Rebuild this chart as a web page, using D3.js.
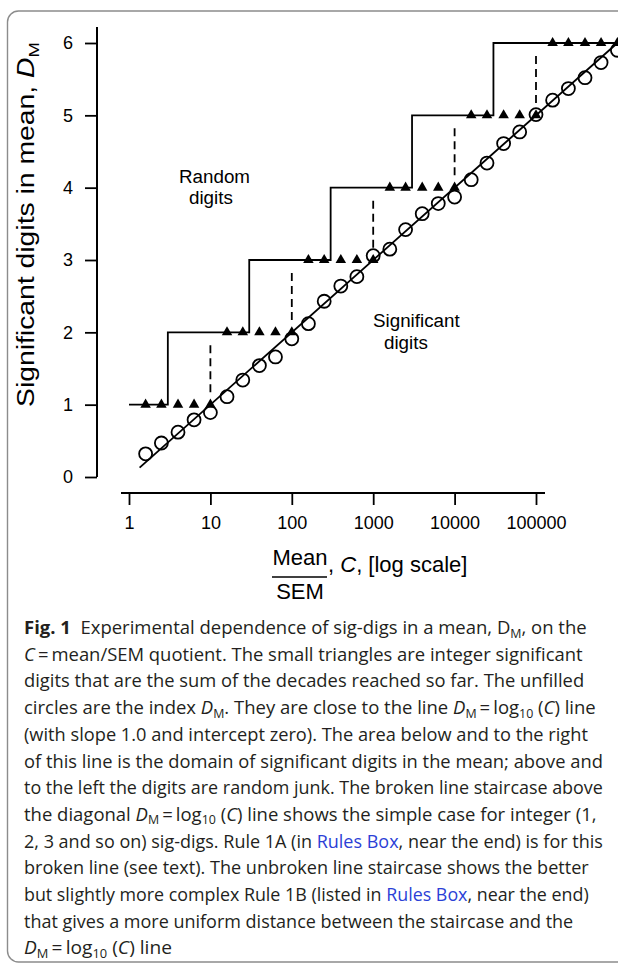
<!DOCTYPE html>
<html>
<head>
<meta charset="utf-8">
<script src="https://cdn.jsdelivr.net/npm/d3@7"></script>
<style>
  body { margin: 0; background: #fff; }
  svg { display: block; }
  text { white-space: pre; }
</style>
</head>
<body>
<svg id="chart" width="618" height="964"></svg>
<script>
// values
const cValues = [1.6, 2.5, 4, 6.3, 10, 16, 25, 40, 63, 100, 160, 250, 400, 630, 1000,
  1600, 2500, 4000, 6300, 10000, 16000, 25000, 40000, 63000, 100000,
  160000, 250000, 400000, 630000, 1000000]
const dmIndex = [0.32, 0.47, 0.62, 0.79, 0.89, 1.11, 1.34, 1.54, 1.66, 1.91, 2.12, 2.43, 2.64, 2.77, 3.06,
  3.15, 3.42, 3.64, 3.78, 3.87, 4.11, 4.34, 4.61, 4.77, 5.01, 5.21, 5.37, 5.52, 5.73, 5.90]
const intDigits = [1, 1, 1, 1, 1, 2, 2, 2, 2, 2, 3, 3, 3, 3, 3, 4, 4, 4, 4, 4, 5, 5, 5, 5, 5, 6, 6, 6, 6, 6]

// Rule 1B staircase (unbroken)
const stairC = [1, 3, 3, 30, 30, 300, 300, 3000, 3000, 30000, 30000, 1000000]
const stairD = [1, 1, 2, 2, 3, 3, 4, 4, 5, 5, 6, 6]
// Rule 1A steps (broken line)
const brokenC = [10, 100, 1000, 10000, 100000]
const brokenFrom = [1, 2, 3, 4, 5]
// the D_M = log10(C) line
const diagC = [1.35, 1000000]
const diagD = [0.13, 6]

const xTicks = [1, 10, 100, 1000, 10000, 100000]
const yTicks = [0, 1, 2, 3, 4, 5, 6]

const svg = d3.select("#chart")
const chartFont = "'Liberation Sans', Arial, Helvetica, sans-serif"
const capFont = "'Open Sans', 'Noto Sans', sans-serif"

// frame of the figure box
svg.append("rect")
  .attr("x", 7.5).attr("y", 11).attr("width", 700).attr("height", 951)
  .attr("rx", 11)
  .attr("fill", "none").attr("stroke", "#8c8c8c").attr("stroke-width", 1.4)

const x = d3.scaleLog().domain([1, 1e6]).range([129, 617.4])
const y = d3.scaleLinear().domain([0, 6]).range([477, 43])

// y axis
const yAxis = svg.append("g")
  .attr("transform", "translate(97,0)")
  .call(d3.axisLeft(y).tickValues(yTicks).tickSize(12).tickPadding(12).tickFormat(d3.format("d")))
yAxis.select(".domain").remove()
yAxis.append("line").attr("x1", 0).attr("x2", 0).attr("y1", 27).attr("y2", y(0))
  .attr("stroke", "#000").attr("stroke-width", 2)
yAxis.selectAll(".tick line").attr("stroke-width", 1.8)
yAxis.selectAll(".tick text").attr("font-family", chartFont).attr("font-size", 18).attr("fill", "#000")

// x axis
const xAxis = svg.append("g")
  .attr("transform", "translate(0,493)")
  .call(d3.axisBottom(x).tickValues(xTicks).tickSize(12).tickPadding(11).tickFormat(d3.format("d")))
xAxis.select(".domain").remove()
xAxis.append("line").attr("x1", 121).attr("x2", 545).attr("y1", 0).attr("y2", 0)
  .attr("stroke", "#000").attr("stroke-width", 2)
xAxis.selectAll(".tick line").attr("stroke-width", 1.8)
xAxis.selectAll(".tick text").attr("font-family", chartFont).attr("font-size", 18).attr("fill", "#000")

const plot = svg.append("g")

// broken line staircase (vertical risers)
plot.selectAll(".riser")
  .data(brokenC)
  .join("line")
  .attr("x1", d => x(d)).attr("x2", d => x(d))
  .attr("y1", (d, i) => y(brokenFrom[i] + 1))
  .attr("y2", (d, i) => y(brokenFrom[i]))
  .attr("stroke", "#000").attr("stroke-width", 1.8)
  .attr("stroke-dasharray", "0,13,8,5,8,5,8,5,8,13")

// unbroken staircase
const stairPts = stairC.map((c, i) => [c, stairD[i]])
plot.append("path")
  .datum(stairPts)
  .attr("fill", "none").attr("stroke", "#000").attr("stroke-width", 1.8)
  .attr("d", d3.line().x(d => x(d[0])).y(d => y(d[1])))

// diagonal D_M = log10(C)
plot.append("path")
  .datum(diagC.map((c, i) => [c, diagD[i]]))
  .attr("fill", "none").attr("stroke", "#000").attr("stroke-width", 1.8)
  .attr("d", d3.line().x(d => x(d[0])).y(d => y(d[1])))

// integer sig-digs (triangles)
plot.selectAll(".tri")
  .data(cValues)
  .join("path")
  .attr("transform", (d, i) => `translate(${x(d)},${y(intDigits[i])})`)
  .attr("d", d3.symbol(d3.symbolTriangle, 48))
  .attr("fill", "#000")

// index D_M (open circles)
plot.selectAll(".dot")
  .data(cValues)
  .join("circle")
  .attr("cx", d => x(d))
  .attr("cy", (d, i) => y(dmIndex[i]))
  .attr("r", 6.5)
  .attr("fill", "none").attr("stroke", "#000").attr("stroke-width", 1.8)

// region labels
const labels = [
  {t: "Random", x: 179, y: 183}, {t: "digits", x: 189, y: 204},
  {t: "Significant", x: 373, y: 327}, {t: "digits", x: 384, y: 349}
]
svg.selectAll(".region")
  .data(labels)
  .join("text")
  .attr("x", d => d.x).attr("y", d => d.y)
  .attr("font-family", chartFont).attr("font-size", 18.8)
  .text(d => d.t)

// y axis title
const yTitle = svg.append("text")
  .attr("font-family", chartFont).attr("font-size", 23)
yTitle.append("tspan").text("Significant digits in mean, ")
yTitle.append("tspan").attr("font-style", "italic").text("D")
yTitle.append("tspan").attr("font-size", 15).attr("dy", 5).text("M")
{
  const w = yTitle.node().getComputedTextLength()
  yTitle.attr("transform", `translate(34,407) rotate(-90) scale(${365 / w},1)`)
}

// x axis title: Mean / SEM fraction
svg.append("text").attr("x", 300).attr("y", 565).attr("text-anchor", "middle")
  .attr("font-family", chartFont).attr("font-size", 22).text("Mean")
svg.append("line").attr("x1", 272).attr("x2", 327).attr("y1", 577).attr("y2", 577)
  .attr("stroke", "#000").attr("stroke-width", 1.5)
svg.append("text").attr("x", 300).attr("y", 599).attr("text-anchor", "middle")
  .attr("font-family", chartFont).attr("font-size", 22).text("SEM")
const xTitle = svg.append("text").attr("x", 328).attr("y", 572)
  .attr("font-family", chartFont).attr("font-size", 22)
xTitle.append("tspan").text(", ")
xTitle.append("tspan").attr("font-style", "italic").text("C")
xTitle.append("tspan").text(", [log scale]")

// caption
const DM = [{t: "D", i: 1}, {t: "M", sub: 1}]
const logC = [{t: "\u2009=\u2009log"}, {t: "10", sub: 1}, {t: " ("}, {t: "C", i: 1}, {t: ")"}]
const captionLines = [
  [{t: "Fig. 1", b: 1}, {t: "  Experimental dependence of sig-digs in a mean, D"}, {t: "M", sub: 1}, {t: ", on the"}],
  [{t: "C", i: 1}, {t: "\u2009=\u2009mean/SEM quotient. The small triangles are integer significant"}],
  [{t: "digits that are the sum of the decades reached so far. The unfilled"}],
  [{t: "circles are the index "}, ...DM, {t: ". They are close to the line "}, ...DM, ...logC, {t: " line"}],
  [{t: "(with slope 1.0 and intercept zero). The area below and to the right"}],
  [{t: "of this line is the domain of significant digits in the mean; above and"}],
  [{t: "to the left the digits are random junk. The broken line staircase above"}],
  [{t: "the diagonal "}, ...DM, ...logC, {t: " line shows the simple case for integer (1,"}],
  [{t: "2, 3 and so on) sig-digs. Rule 1A (in "}, {t: "Rules Box", link: 1}, {t: ", near the end) is for this"}],
  [{t: "broken line (see text). The unbroken line staircase shows the better"}],
  [{t: "but slightly more complex Rule 1B (listed in "}, {t: "Rules Box", link: 1}, {t: ", near the end)"}],
  [{t: "that gives a more uniform distance between the staircase and the"}],
  [...DM, ...logC, {t: " line"}]
]
const lineEnds = [587, 583, 584, 596, 588, 603, 603, 597, 603, 589, 589, 573, 172]
const capLeft = 24, capTop = 634, capStep = 26.7

captionLines.forEach((segs, li) => {
  const txt = svg.append("text")
    .attr("font-family", capFont).attr("font-size", 18.6).attr("fill", "#231f20")
  let shift = 0
  segs.forEach(s => {
    const ts = txt.append("tspan").text(s.t)
    const want = s.sub ? 3.5 : 0
    if (want !== shift) { ts.attr("dy", want - shift); shift = want }
    if (s.sub) ts.attr("font-size", 12.5)
    if (s.i) ts.attr("font-style", "italic")
    if (s.b) ts.attr("font-weight", 700)
    if (s.link) ts.attr("fill", "#2b3fd6")
  })
  const w = txt.node().getComputedTextLength()
  const sx = (lineEnds[li] - capLeft) / w
  txt.attr("transform", `translate(${capLeft},${capTop + li * capStep}) scale(${sx},1)`)
})
</script>
</body>
</html>
